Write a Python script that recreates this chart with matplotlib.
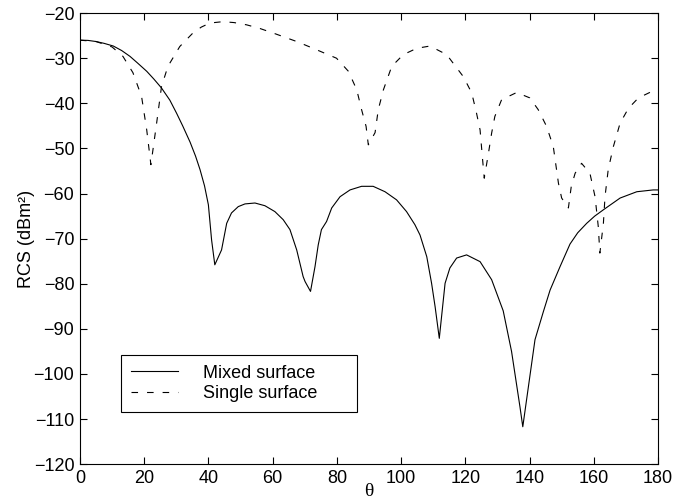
import matplotlib
matplotlib.use("Agg")
import matplotlib.pyplot as plt

# Data
mixed_x = [0, 2.5, 5, 7.5, 10.4, 13, 15.6, 18, 20.8, 23, 25.4, 28, 30.1, 32, 34.3, 36,
           37.4, 38.8, 40, 41, 42, 44.1, 45.7, 47.2, 49.3, 51.4, 54.5, 57.6, 60.7, 63.3,
           65.4, 67.5, 69.5, 70.1, 71.8, 73.2, 74.2, 75.2, 76.8, 78.4, 81, 84.1, 87.7,
           91.3, 95, 98.6, 101.7, 104.3, 105.9, 108, 109.5, 110.6, 111.9, 113.7, 115.2,
           117.3, 120.4, 124.6, 128.2, 131.8, 134.4, 137, 137.9, 141.7, 144.3, 146.4,
           149.5, 152.6, 155, 157.8, 160.3, 163, 168.2, 173.4, 178.5, 180]
mixed_y = [-26, -26.05, -26.3, -26.7, -27.3, -28.3, -29.6, -31.1, -32.9, -34.6, -36.6,
           -39.3, -42.2, -45.0, -48.6, -51.7, -54.7, -58.3, -62.5, -70.3, -75.8, -72.5,
           -66.6, -64.3, -62.9, -62.3, -62.1, -62.7, -64.0, -65.8, -68.0, -72.5, -78.4,
           -79.5, -81.7, -76.2, -71.4, -68.0, -66.2, -63.2, -60.7, -59.2, -58.4, -58.4,
           -59.6, -61.4, -64.0, -66.9, -69.2, -74.0, -79.9, -85.1, -92.1, -79.9, -76.5,
           -74.3, -73.6, -75.1, -79.1, -86.0, -95.0, -107.2, -111.7, -92.4, -86.2, -81.4,
           -76.2, -71.2, -68.7, -66.6, -65.0, -63.6, -61.0, -59.6, -59.2, -59.2]

single_x = [0, 5, 10, 13.4, 16.5, 19.2, 20.8, 22.1, 23.9, 25.4, 27.4, 31.1, 35.2, 37.8,
            40.5, 44.5, 48, 51.9, 56, 60.1, 67.5, 72.6, 79.9, 83.6, 86.2, 87.7, 89.1, 89.8,
            91.9, 92.9, 94.5, 97.1, 100.7, 104.9, 109, 114.2, 119.4, 122, 123.5, 124.6,
            125.3, 125.9, 127.2, 128.2, 129.2, 131.3, 136, 140.1, 142.7, 145.3, 147.4,
            149, 150, 152.1, 153, 154.2, 156.2, 158.8, 160.4, 161.4, 161.9, 163, 163.5,
            164.5, 166.1, 168.2, 170.8, 173.9, 178, 180]
single_y = [-26, -26.3, -27.5, -29.6, -33.2, -38.5, -45.9, -53.6, -44.3, -36.3, -31.8,
            -27.4, -24.4, -23.1, -22.2, -21.9, -22.1, -22.6, -23.4, -24.4, -26.3, -27.8,
            -30.0, -32.9, -37.0, -41.4, -45.1, -49.2, -46.5, -41.4, -37.0, -31.8, -29.2,
            -27.8, -27.3, -29.2, -34.1, -37.7, -42.2, -45.9, -51.8, -56.6, -51.1, -46.6,
            -42.9, -39.2, -37.6, -38.8, -41.4, -45.1, -49.6, -57.7, -61.0, -63.2, -58.4,
            -55.5, -53.3, -55.5, -60.7, -67.3, -73.2, -66.6, -60.7, -54.7, -49.6, -44.4,
            -41.1, -38.8, -37.4, -37.2]

x_ticks = [0, 20, 40, 60, 80, 100, 120, 140, 160, 180]
y_ticks = [-120, -110, -100, -90, -80, -70, -60, -50, -40, -30, -20]
labels = ["Mixed surface", "Single surface"]

plt.rcParams['font.family'] = ['Liberation Sans', 'DejaVu Sans']
plt.rcParams['axes.unicode_minus'] = True

fig = plt.figure(figsize=(6.89, 5.04), dpi=100)
ax = fig.add_axes([0.116, 0.079, 0.839, 0.895])

ax.plot(mixed_x, mixed_y, color='black', lw=0.8, label=labels[0])
ax.plot(single_x, single_y, color='black', lw=0.8, linestyle=(0, (5.9, 8.1)),
        label=labels[1])

ax.set_xlim(0, 180)
ax.set_ylim(-120, -20)
ax.set_xticks(x_ticks)
ax.set_yticks(y_ticks)
ax.tick_params(direction='in', top=True, right=True, length=5, width=0.8,
               labelsize=13, pad=4)
for s in ax.spines.values():
    s.set_linewidth(0.8)
    s.set_color('black')

ax.set_xlabel('θ', family=['Liberation Serif', 'DejaVu Serif'], fontsize=14, labelpad=-3)
ax.set_ylabel('RCS (dBm²)', fontsize=13, labelpad=-1)

leg = ax.legend(loc='lower left', bbox_to_anchor=(0.071, 0.115, 0.408, 0.129),
                mode='expand', borderaxespad=0, fontsize=13, handlelength=2.6,
                handletextpad=1.4, borderpad=0.55, labelspacing=0.2, fancybox=False,
                framealpha=1, edgecolor='black')
leg.get_frame().set_linewidth(0.8)

fig.savefig('out.png', dpi=100)
